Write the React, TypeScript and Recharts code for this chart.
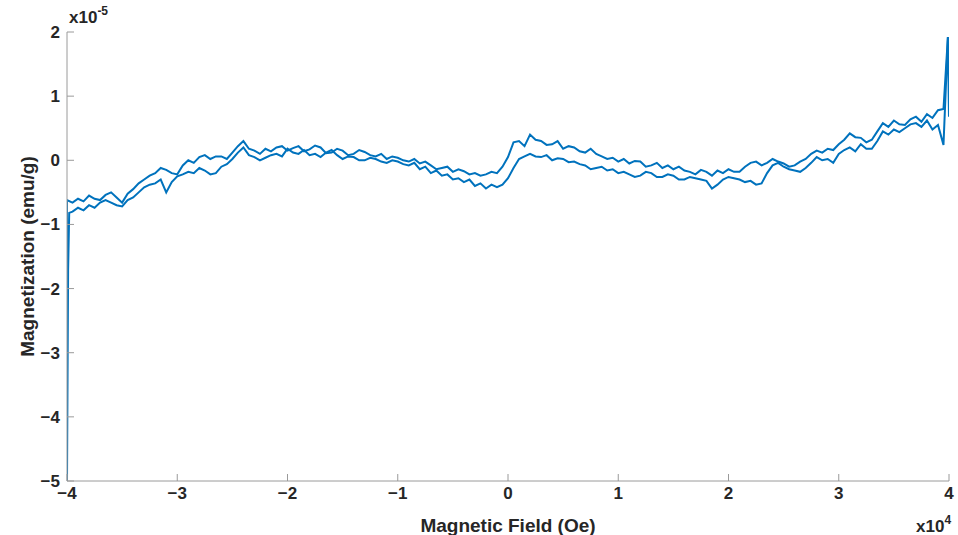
import { LineChart, Line, XAxis, YAxis } from 'recharts'

// field grid, units of 1e4 Oe
const fieldSteps = [
  -3.95, -3.9, -3.85, -3.8, -3.75, -3.7, -3.65, -3.6, -3.55, -3.5,
  -3.45, -3.4, -3.35, -3.3, -3.25, -3.2, -3.15, -3.1, -3.05, -3,
  -2.95, -2.9, -2.85, -2.8, -2.75, -2.7, -2.65, -2.6, -2.55, -2.5,
  -2.45, -2.4, -2.35, -2.3, -2.25, -2.2, -2.15, -2.1, -2.05, -2,
  -1.95, -1.9, -1.85, -1.8, -1.75, -1.7, -1.65, -1.6, -1.55, -1.5,
  -1.45, -1.4, -1.35, -1.3, -1.25, -1.2, -1.15, -1.1, -1.05, -1,
  -0.95, -0.9, -0.85, -0.8, -0.75, -0.7, -0.65, -0.6, -0.55, -0.5,
  -0.45, -0.4, -0.35, -0.3, -0.25, -0.2, -0.15, -0.1, -0.05, 0,
  0.05, 0.1, 0.15, 0.2, 0.25, 0.3, 0.35, 0.4, 0.45, 0.5,
  0.55, 0.6, 0.65, 0.7, 0.75, 0.8, 0.85, 0.9, 0.95, 1,
  1.05, 1.1, 1.15, 1.2, 1.25, 1.3, 1.35, 1.4, 1.45, 1.5,
  1.55, 1.6, 1.65, 1.7, 1.75, 1.8, 1.85, 1.9, 1.95, 2,
  2.05, 2.1, 2.15, 2.2, 2.25, 2.3, 2.35, 2.4, 2.45, 2.5,
  2.55, 2.6, 2.65, 2.7, 2.75, 2.8, 2.85, 2.9, 2.95, 3,
  3.05, 3.1, 3.15, 3.2, 3.25, 3.3, 3.35, 3.4, 3.45, 3.5,
  3.55, 3.6, 3.65, 3.7, 3.75, 3.8, 3.85, 3.9, 3.95,
]

// magnetization, units of 1e-5 emu/g
const sweepDown = [
  -0.66, -0.6, -0.64, -0.55, -0.6, -0.62, -0.54, -0.5, -0.58, -0.66,
  -0.52, -0.45, -0.36, -0.3, -0.24, -0.2, -0.12, -0.15, -0.2, -0.22,
  -0.08, 0, -0.04, 0.05, 0.08, 0.02, 0.06, 0.06, 0.02, 0.12,
  0.22, 0.3, 0.18, 0.15, 0.1, 0.18, 0.14, 0.2, 0.22, 0.15,
  0.19, 0.22, 0.14, 0.17, 0.23, 0.2, 0.11, 0.12, 0.18, 0.15,
  0.08, 0.1, 0.16, 0.13, 0.08, 0.06, 0.1, 0.02, 0.06, 0.04,
  0, -0.02, 0.02, -0.05, -0.02, -0.08, -0.14, -0.12, -0.1, -0.18,
  -0.14, -0.17, -0.22, -0.2, -0.24, -0.22, -0.18, -0.2, -0.1, 0.05,
  0.28, 0.3, 0.22, 0.4, 0.32, 0.3, 0.24, 0.25, 0.3, 0.18,
  0.22, 0.2, 0.14, 0.12, 0.18, 0.1, 0.06, 0.02, 0.04, -0.02,
  0.02, -0.05, -0.01, -0.02, -0.1, -0.08, -0.04, -0.12, -0.08, -0.14,
  -0.1, -0.16, -0.18, -0.22, -0.15, -0.18, -0.24, -0.16, -0.2, -0.14,
  -0.18, -0.18, -0.1, -0.04, -0.02, -0.08, -0.04, 0.02, -0.02, -0.05,
  -0.1, -0.08, -0.02, 0.02, 0.1, 0.15, 0.12, 0.18, 0.16, 0.25,
  0.32, 0.42, 0.36, 0.35, 0.28, 0.32, 0.45, 0.58, 0.52, 0.62,
  0.56, 0.55, 0.64, 0.68, 0.6, 0.72, 0.66, 0.78, 0.8,
]

const sweepUp = [
  -0.8, -0.74, -0.78, -0.7, -0.74, -0.66, -0.62, -0.66, -0.7, -0.72,
  -0.62, -0.58, -0.5, -0.42, -0.38, -0.36, -0.3, -0.5, -0.34, -0.25,
  -0.22, -0.18, -0.2, -0.12, -0.16, -0.22, -0.2, -0.1, -0.06, 0.02,
  0.12, 0.2, 0.08, 0.05, 0, 0.04, 0.08, 0.1, 0.06, 0.18,
  0.12, 0.1, 0.16, 0.08, 0.1, 0.05, 0.12, 0.16, 0.08, 0.02,
  0.06, 0.05, 0, 0, 0.04, 0.02, -0.02, -0.04, 0, -0.02,
  -0.06, -0.08, -0.04, -0.14, -0.1, -0.2, -0.16, -0.24, -0.22, -0.3,
  -0.28, -0.34, -0.3, -0.4, -0.36, -0.44, -0.38, -0.42, -0.38, -0.28,
  -0.12, 0.02, 0.06, 0.1, 0.06, 0.05, 0.08, 0, 0.03, 0.02,
  -0.03, -0.02, -0.06, -0.08, -0.14, -0.12, -0.1, -0.16, -0.14, -0.2,
  -0.18, -0.22, -0.26, -0.24, -0.18, -0.2, -0.26, -0.26, -0.22, -0.24,
  -0.3, -0.3, -0.26, -0.28, -0.3, -0.32, -0.44, -0.38, -0.3, -0.26,
  -0.28, -0.3, -0.34, -0.32, -0.38, -0.36, -0.2, -0.08, -0.04, -0.1,
  -0.14, -0.16, -0.18, -0.12, -0.04, 0.05, 0, 0.02, -0.04, 0.1,
  0.16, 0.2, 0.14, 0.25, 0.18, 0.18, 0.3, 0.45, 0.4, 0.48,
  0.44, 0.5, 0.56, 0.58, 0.52, 0.62, 0.48, 0.55, 0.24,
]

// end points at the field limits
const downHighField = [3.99]
const downHighMoment = [1.92]
const downLowField = [-4, -4]
const downLowMoment = [-0.62, -5]
const upLowField = [-4, -3.99, -3.98]
const upLowMoment = [-5, -1.72, -0.82]
const upHighField = [3.99, 4]
const upHighMoment = [1.92, 0.68]

const xTicks = [-4, -3, -2, -1, 0, 1, 2, 3, 4]
const yTicks = [-5, -4, -3, -2, -1, 0, 1, 2]

const pts = (xs: number[], ys: number[]) => xs.map((h, i) => ({ h, m: ys[i] }))

const downData = [
  ...pts(downLowField, downLowMoment).reverse(),
  ...pts(fieldSteps, sweepDown),
  ...pts(downHighField, downHighMoment),
]
const upData = [
  ...pts(upLowField, upLowMoment),
  ...pts(fieldSteps, sweepUp),
  ...pts(upHighField, upHighMoment),
]

const fmt = (v: number) => (v < 0 ? `\u2212${Math.abs(v)}` : `${v}`)
const font = 'Liberation Sans, Arial, Helvetica, sans-serif'
const ink = '#262626'
const tickStyle = { fontSize: 17, fontWeight: 700, fill: ink, fontFamily: font }
const titleStyle = { fontSize: 19, fontWeight: 700, fill: ink, fontFamily: font }
const axisGray = '#9a9a9a'

const YTitle = (props: any) => {
  const vb = props.viewBox || { y: 32, height: 449 }
  const cx = 27
  const cy = vb.y + vb.height / 2
  return (
    <text x={cx} y={cy} transform={`rotate(-90 ${cx} ${cy})`} textAnchor="middle" dominantBaseline="central" style={titleStyle}>
      Magnetization (emu/g)
    </text>
  )
}

export default function App() {
  return (
    <div style={{ position: 'absolute', left: 0, top: 0, width: 958, height: 535, background: '#fff', fontFamily: font }}>
      <LineChart width={958} height={535} margin={{ top: 32, right: 9, bottom: 0, left: 0 }}>
        <XAxis
          xAxisId="b"
          type="number"
          dataKey="h"
          domain={[-4, 4]}
          ticks={xTicks}
          tickFormatter={fmt}
          height={54}
          tickSize={-7}
          tickMargin={13}
          tick={tickStyle}
          stroke={axisGray}
          allowDataOverflow
          label={{ value: 'Magnetic Field (Oe)', position: 'insideBottom', offset: 3, style: titleStyle }}
        />
        <XAxis
          xAxisId="t"
          orientation="top"
          type="number"
          dataKey="h"
          domain={[-4, 4]}
          ticks={xTicks}
          height={0}
          tickSize={-7}
          tick={false}
          stroke={axisGray}
          allowDataOverflow
        />
        <YAxis
          yAxisId="l"
          type="number"
          dataKey="m"
          domain={[-5, 2]}
          ticks={yTicks}
          tickFormatter={fmt}
          width={67}
          tickSize={-7}
          tickMargin={14}
          tick={tickStyle}
          stroke={axisGray}
          allowDataOverflow
          label={<YTitle />}
        />
        <YAxis
          yAxisId="r"
          orientation="right"
          type="number"
          dataKey="m"
          domain={[-5, 2]}
          ticks={yTicks}
          width={0}
          tickSize={-7}
          tick={false}
          stroke={axisGray}
          allowDataOverflow
        />
        <Line
          xAxisId="b"
          yAxisId="l"
          data={downData}
          dataKey="m"
          type="linear"
          stroke="#0072BD"
          strokeWidth={2}
          dot={false}
          isAnimationActive={false}
        />
        <Line
          xAxisId="b"
          yAxisId="l"
          data={upData}
          dataKey="m"
          type="linear"
          stroke="#0072BD"
          strokeWidth={2}
          dot={false}
          isAnimationActive={false}
        />
      </LineChart>
      <div style={{ position: 'absolute', left: 69, top: 2, fontSize: 17, fontWeight: 700, color: ink, lineHeight: '20px' }}>
        x10<sup style={{ fontSize: 12, position: 'relative', top: -1 }}>-5</sup>
      </div>
      <div style={{ position: 'absolute', left: 916, top: 511, fontSize: 17, fontWeight: 700, color: ink, lineHeight: '20px' }}>
        x10<sup style={{ fontSize: 12, position: 'relative', top: -1 }}>4</sup>
      </div>
    </div>
  )
}
